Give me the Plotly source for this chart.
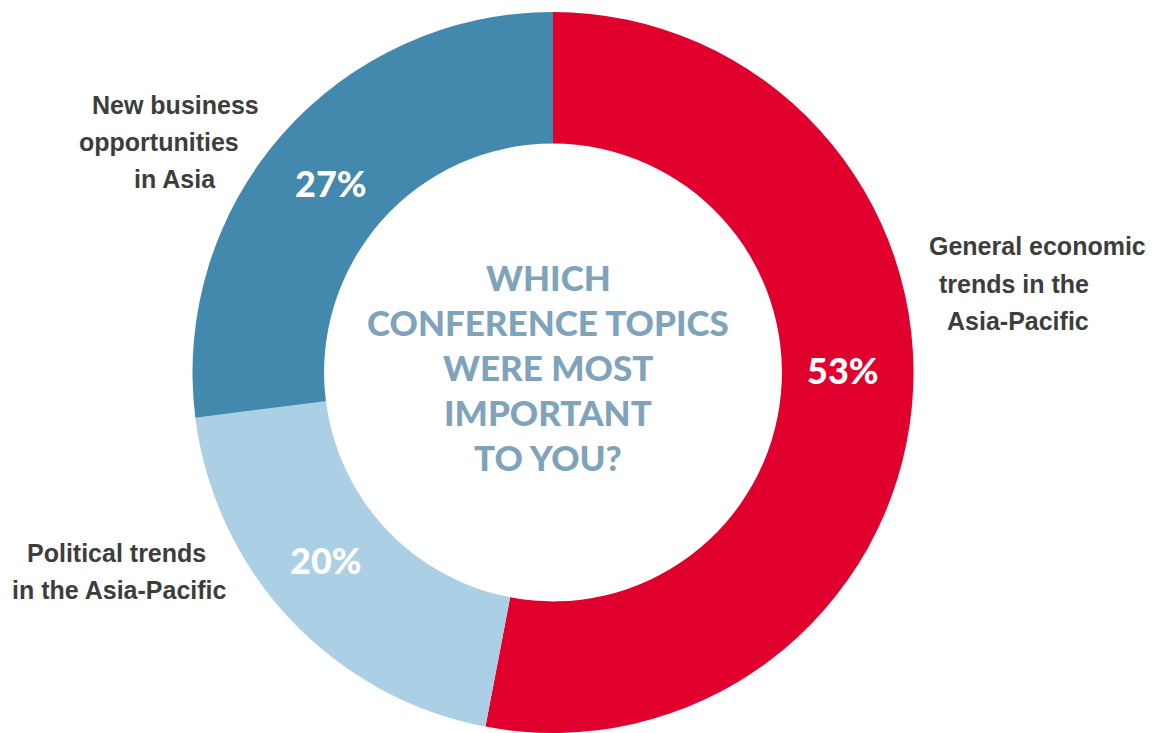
import plotly.graph_objects as go

W, H = 1155, 733

# Survey shares (percent), in clockwise order from 12 o'clock
topics = [
    "General economic trends in the Asia-Pacific",
    "Political trends in the Asia-Pacific",
    "New business opportunities in Asia",
]
shares = [53, 20, 27]
slice_colors = ["#e1002d", "#abd0e6", "#4388ad"]

# Outside labels, one entry per line: (text, left x px, centre y px)
label_lines = [
    [("General economic", 927, 246), ("trends in the", 937, 284), ("Asia-Pacific", 945, 321)],
    [("Political trends", 25, 553), ("in the Asia-Pacific", 10, 590)],
    [("New business", 90, 105), ("opportunities", 77, 142), ("in Asia", 132, 179)],
]
# Percentage label centres in px
pct_pos = [(843, 370), (326, 560), (331, 183)]

title_lines = ["WHICH", "CONFERENCE TOPICS", "WERE MOST", "IMPORTANT", "TO YOU?"]
title_y = [277, 322, 367, 412, 457]
title_x = 548


def px(x):
    return x / W


def py(y):
    return 1 - y / H


cx, r = 553, 360.5
fig = go.Figure(
    go.Pie(
        labels=topics,
        values=shares,
        sort=False,
        direction="clockwise",
        rotation=0,
        hole=0.635,
        marker=dict(colors=slice_colors, line=dict(width=0)),
        textinfo="none",
        hoverinfo="label+percent",
        showlegend=False,
        domain=dict(x=[px(cx - r), px(cx + r)], y=[0, 2 * r / H]),
    )
)

annotations = []
label_font = dict(family="Liberation Sans", size=25, color="#3d3d3d", weight="bold")
for lines in label_lines:
    for text, x, y in lines:
        annotations.append(dict(
            text=text, x=px(x), y=py(y), xref="paper", yref="paper",
            xanchor="left", yanchor="middle", showarrow=False, font=label_font,
        ))

pct_font = dict(family="Lato", size=36, color="white", weight=900)
for v, (x, y) in zip(shares, pct_pos):
    annotations.append(dict(
        text=f"{v}%", x=px(x), y=py(y), xref="paper", yref="paper",
        xanchor="center", yanchor="middle", showarrow=False, font=pct_font,
    ))

title_font = dict(family="Lato", size=35, color="#7fa3bb", weight=900)
for text, y in zip(title_lines, title_y):
    annotations.append(dict(
        text=text, x=px(title_x), y=py(y), xref="paper", yref="paper",
        xanchor="center", yanchor="middle", showarrow=False, font=title_font,
    ))

fig.update_layout(
    width=W, height=H,
    margin=dict(l=0, r=0, t=0, b=0),
    paper_bgcolor="white", plot_bgcolor="white",
    annotations=annotations,
)

fig.write_html("out.html")
